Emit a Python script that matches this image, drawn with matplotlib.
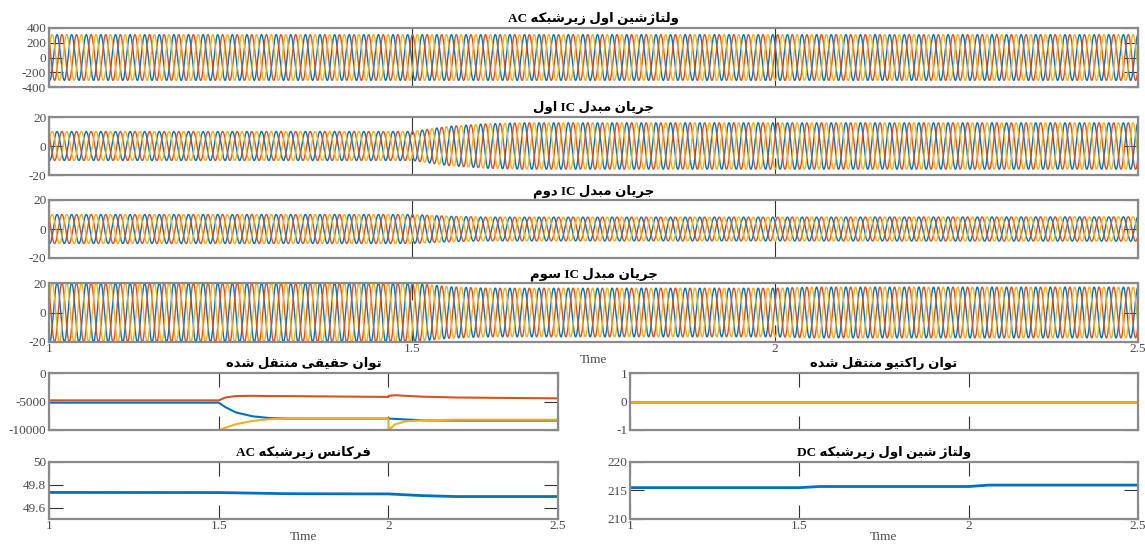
import numpy as np
import matplotlib
matplotlib.use("Agg")
import matplotlib.pyplot as plt

# ---- data ----
TIME_START, TIME_END = 1.0, 2.5
GRID_FREQ_HZ = 49.7

PHASE_COLORS = ["#0072BD", "#D95319", "#EDB120"]

# amplitude envelopes of the three-phase waveforms (time, peak value)
ac_bus_voltage_t = [1.0, 2.5]
ac_bus_voltage_amp = [310, 310]

ic1_current_t = [1.0, 1.5, 1.55, 1.6, 1.65, 2.5]
ic1_current_amp = [10, 10, 13.5, 15.3, 16, 16]

ic2_current_t = [1.0, 1.5, 1.55, 1.6, 2.0, 2.5]
ic2_current_amp = [10, 10, 8.8, 8.2, 8.2, 8.4]

ic3_current_t = [1.0, 1.5, 1.55, 1.6, 2.0, 2.05, 2.5]
ic3_current_amp = [20, 20, 17.5, 16.5, 16.5, 17.2, 17.2]

# transferred real power
real_power_t = [1.0, 1.5, 1.52, 1.55, 1.6, 1.65, 1.7, 2.0, 2.001, 2.02, 2.05, 2.1, 2.2, 2.5]
real_power_blue = [-5200, -5200, -6000, -6900, -7600, -7900, -8000, -8000, -8000, -8050, -8150, -8300, -8350, -8350]
real_power_orange = [-4800, -4800, -4300, -4050, -4000, -4050, -4050, -4200, -4000, -3900, -4000, -4150, -4300, -4450]
real_power_yellow = [-10100, -10100, -9600, -9000, -8400, -8100, -8000, -8000, -10000, -9000, -8500, -8300, -8200, -8200]

# transferred reactive power
reactive_power_t = [1.0, 2.5]
reactive_power = [0, 0]

# AC sub-grid frequency
freq_t = [1.0, 1.5, 1.7, 2.0, 2.1, 2.2, 2.5]
freq_hz = [49.733, 49.732, 49.722, 49.72, 49.705, 49.697, 49.697]

# DC bus voltage
dc_volt_t = [1.0, 1.5, 1.56, 2.0, 2.06, 2.5]
dc_volt = [215.5, 215.5, 215.7, 215.7, 215.95, 215.95]

TITLES = [
    "ولتاژشین اول زیرشبکه AC",
    "جریان مبدل IC اول",
    "جریان مبدل IC دوم",
    "جریان مبدل IC سوم",
    "توان حقیقی منتقل شده",
    "توان راکتیو منتقل شده",
    "فرکانس زیرشبکه AC",
    "ولتاژ شین اول زیرشبکه DC",
]

# ---- minimal Persian shaping (matplotlib 3.10 has no complex layout) ----
# letter: (isolated, final, initial, medial); right-joining letters have no initial/medial
FORMS = {
    "ا": ("\uFE8D", "\uFE8E", None, None),
    "ب": ("\uFE8F", "\uFE90", "\uFE91", "\uFE92"),
    "ت": ("\uFE95", "\uFE96", "\uFE97", "\uFE98"),
    "ج": ("\uFE9D", "\uFE9E", "\uFE9F", "\uFEA0"),
    "ح": ("\uFEA1", "\uFEA2", "\uFEA3", "\uFEA4"),
    "د": ("\uFEA9", "\uFEAA", None, None),
    "ر": ("\uFEAD", "\uFEAE", None, None),
    "ز": ("\uFEAF", "\uFEB0", None, None),
    "ژ": ("\uFB8A", "\uFB8B", None, None),
    "س": ("\uFEB1", "\uFEB2", "\uFEB3", "\uFEB4"),
    "ش": ("\uFEB5", "\uFEB6", "\uFEB7", "\uFEB8"),
    "ف": ("\uFED1", "\uFED2", "\uFED3", "\uFED4"),
    "ق": ("\uFED5", "\uFED6", "\uFED7", "\uFED8"),
    "ک": ("\uFB8E", "\uFB8F", "\uFB90", "\uFB91"),
    "ل": ("\uFEDD", "\uFEDE", "\uFEDF", "\uFEE0"),
    "م": ("\uFEE1", "\uFEE2", "\uFEE3", "\uFEE4"),
    "ن": ("\uFEE5", "\uFEE6", "\uFEE7", "\uFEE8"),
    "ه": ("\uFEE9", "\uFEEA", "\uFEEB", "\uFEEC"),
    "و": ("\uFEED", "\uFEEE", None, None),
    "ی": ("\uFBFC", "\uFBFD", "\uFBFE", "\uFBFF"),
}


def shape_word(word):
    out = []
    for i, ch in enumerate(word):
        if ch not in FORMS:
            out.append(ch)
            continue
        iso, fin, ini, med = FORMS[ch]
        prev = word[i - 1] if i > 0 else None
        nxt = word[i + 1] if i + 1 < len(word) else None
        joins_prev = prev in FORMS and FORMS[prev][2] is not None
        joins_next = nxt in FORMS and ini is not None
        if joins_prev and joins_next:
            out.append(med)
        elif joins_prev:
            out.append(fin)
        elif joins_next:
            out.append(ini)
        else:
            out.append(iso)
    return "".join(reversed(out))


def rtl(text):
    words = text.split(" ")
    vis = []
    for w in reversed(words):
        if any(c in FORMS for c in w):
            vis.append(shape_word(w))
        else:
            vis.append(w)
    return " ".join(vis)


# ---- figure ----
plt.rcParams["font.family"] = ["Liberation Serif", "DejaVu Sans"]
W, H = 1145, 544
fig = plt.figure(figsize=(W / 100, H / 100), dpi=100)

SPINE = "#8a8a8a"
TICKTXT = "#4a4a4a"


def make_ax(left, top, right, bottom):
    ax = fig.add_axes([left / W, 1 - bottom / H, (right - left) / W, (bottom - top) / H])
    for s in ax.spines.values():
        s.set_color(SPINE)
        s.set_linewidth(1.6)
    ax.tick_params(direction="in", length=10, width=0.8, color="#333333",
                   top=True, right=True, labelsize=9.5, labelcolor=TICKTXT, pad=2)
    ax.set_xlim(TIME_START, TIME_END)
    ax.set_xticks([1, 1.5, 2, 2.5])
    ax.set_xticklabels([])
    return ax


def title(ax, text):
    ax.set_title(rtl(text), fontsize=9.5, fontweight="bold", pad=4,
                 family=["Liberation Serif", "DejaVu Sans"])


def xtime(ax):
    ax.set_xticklabels(["1", "1.5", "2", "2.5"])
    ax.tick_params(axis="x", pad=1)
    ax.set_xlabel("Time", fontsize=9.5, color=TICKTXT, labelpad=-1)


t = np.linspace(TIME_START, TIME_END, 9001)


def three_phase(ax, env_t, env_amp):
    amp = np.interp(t, env_t, env_amp)
    for k, c in enumerate(PHASE_COLORS):
        ax.plot(t, amp * np.sin(2 * np.pi * GRID_FREQ_HZ * t - k * 2 * np.pi / 3),
                color=c, lw=1.0)


def ylabels(ax, vals):
    ax.set_yticks(vals)
    ax.set_yticklabels([f"{v:g}" for v in vals])


# top four waveform panels
top_rows = [(28, 87), (117, 175), (200, 258), (283, 342)]
wave_data = [
    (ac_bus_voltage_t, ac_bus_voltage_amp, (-400, 400), [-400, -200, 0, 200, 400]),
    (ic1_current_t, ic1_current_amp, (-20, 20), [-20, 0, 20]),
    (ic2_current_t, ic2_current_amp, (-20, 20), [-20, 0, 20]),
    (ic3_current_t, ic3_current_amp, (-20, 20), [-20, 0, 20]),
]
for i, ((tp, bt), (et, ea, yl, yt)) in enumerate(zip(top_rows, wave_data)):
    ax = make_ax(49, tp, 1138, bt)
    three_phase(ax, et, ea)
    ax.set_ylim(*yl)
    ylabels(ax, yt)
    ax.tick_params(axis="x", length=30 if i == 0 else 12)
    title(ax, TITLES[i])
    if i == 3:
        xtime(ax)

# real power
ax = make_ax(49, 373, 558, 430)
for vals, c in zip([real_power_blue, real_power_orange, real_power_yellow], PHASE_COLORS):
    ax.plot(real_power_t, vals, color=c, lw=1.5)
ax.set_ylim(-10000, 0)
ylabels(ax, [-10000, -5000, 0])
title(ax, TITLES[4])

# reactive power
ax = make_ax(630, 373, 1138, 430)
for c in PHASE_COLORS:
    ax.plot(reactive_power_t, reactive_power, color=c, lw=2)
ax.set_ylim(-1, 1)
ylabels(ax, [-1, 0, 1])
title(ax, TITLES[5])

# frequency
ax = make_ax(49, 462, 558, 519)
ax.plot(freq_t, freq_hz, color=PHASE_COLORS[0], lw=2)
ax.set_ylim(49.5, 50)
ylabels(ax, [49.6, 49.8, 50])
xtime(ax)
title(ax, TITLES[6])

# DC bus voltage
ax = make_ax(630, 462, 1138, 519)
ax.plot(dc_volt_t, dc_volt, color=PHASE_COLORS[0], lw=2)
ax.set_ylim(210, 220)
ylabels(ax, [210, 215, 220])
xtime(ax)
title(ax, TITLES[7])

fig.savefig("out.png", dpi=100)
